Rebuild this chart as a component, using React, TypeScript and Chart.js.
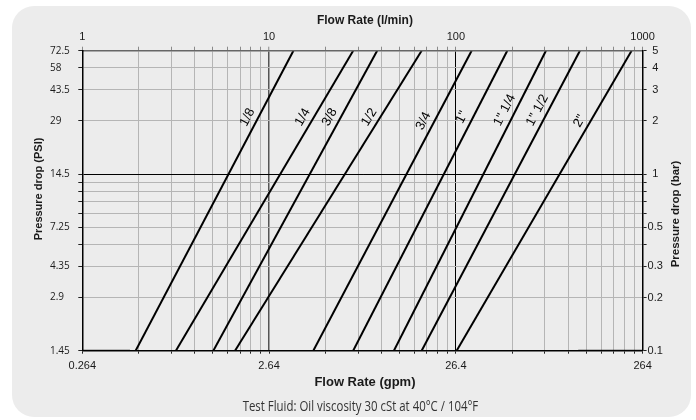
import React, { useEffect, useRef } from 'react';
import { Chart, registerables } from 'chart.js';

Chart.register(...registerables);

// ---- data ----
const pipeSizes = ['1/8', '1/4', '3/8', '1/2', '3/4', '1"', '1" 1/4', '1" 1/2', '2"'];
const lowDrop = 0.1; // bar
const highDrop = 5; // bar
const flowAtLowDrop = [1.93, 3.17, 5.03, 6.57, 17.25, 28.2, 46.6, 65.6, 101]; // l/min at 0.1 bar
const flowAtHighDrop = [13.5, 28.2, 37.9, 65.6, 121.5, 188.5, 303.7, 461.7, 873]; // l/min at 5 bar
const labelDrop = [2.1, 2.1, 2.1, 2.1, 2.0, 2.1, 2.3, 2.3, 2.0]; // bar where size label sits
const baselineLeft = [1, 1.8]; // l/min, along 0.1 bar
const baselineRight = [452, 1000]; // l/min, along 0.1 bar

const flowGrid = [1, 2, 3, 4, 5, 6, 7, 8, 9, 10, 20, 30, 40, 50, 60, 70, 80, 90, 100, 200, 300, 400, 500, 600, 700, 800, 900, 1000];
const flowLabelValues = [1, 10, 100, 1000];
const flowLabels = ['1', '10', '100', '1000'];
const gpmLabels = ['0.264', '2.64', '26.4', '264'];
const barGrid = [0.1, 0.2, 0.3, 0.4, 0.5, 0.6, 0.7, 0.8, 0.9, 1, 2, 3, 4, 5];
const barLabelValues = [0.1, 0.2, 0.3, 0.5, 1, 2, 3, 4, 5];
const barLabels = ['0.1', '0.2', '0.3', '0.5', '1', '2', '3', '4', '5'];
const psiLabels = ['1.45', '2.9', '4.35', '7.25', '14.5', '29', '43.5', '58', '72.5'];

const GPM_PER_LPM = 0.264;
const PSI_PER_BAR = 14.5;

const topTitle = 'Flow Rate (l/min)';
const bottomTitle = 'Flow Rate (gpm)';
const leftTitle = 'Pressure drop (PSI)';
const rightTitle = 'Pressure drop (bar)';
const caption = 'Test Fluid: Oil viscosity 30 cSt at 40°C / 104°F';

const SANS = '"Liberation Sans", Arial, Helvetica, sans-serif';
const TEXT = '#1a1a1a';
const GRID = '#b5b5b5';

const flowLabelAt = (i: number) => {
  const k = flowLabelValues.indexOf(flowGrid[i]);
  return k >= 0 ? flowLabels[k] : '';
};
const gpmLabelAt = (i: number) => {
  const k = flowLabelValues.indexOf(flowGrid[i]);
  return k >= 0 ? gpmLabels[k] : '';
};
const barLabelAt = (i: number) => {
  const k = barLabelValues.indexOf(barGrid[i]);
  return k >= 0 ? barLabels[k] : '';
};
const psiLabelAt = (i: number) => {
  const k = barLabelValues.indexOf(barGrid[i]);
  return k >= 0 ? psiLabels[k] : '';
};

const textPlugin = {
  id: 'chartTexts',
  afterDatasetsDraw(chart: any) {
    const { ctx } = chart;
    const xs = chart.scales.x;
    const ys = chart.scales.y2;
    ctx.save();
    ctx.fillStyle = '#000';
    ctx.font = `13px ${SANS}`;
    ctx.textAlign = 'center';
    ctx.textBaseline = 'middle';
    pipeSizes.forEach((s, i) => {
      const x0 = xs.getPixelForValue(flowAtLowDrop[i]);
      const y0 = ys.getPixelForValue(lowDrop);
      const x1 = xs.getPixelForValue(flowAtHighDrop[i]);
      const y1 = ys.getPixelForValue(highDrop);
      const yc = ys.getPixelForValue(labelDrop[i]);
      const t = (yc - y0) / (y1 - y0);
      const xc = x0 + t * (x1 - x0) - 11;
      const ang = Math.atan2(y1 - y0, x1 - x0);
      ctx.save();
      ctx.translate(xc, yc);
      ctx.rotate(ang);
      ctx.fillText(s, 0, 0);
      ctx.restore();
    });
    ctx.restore();
  },
  afterDraw(chart: any) {
    const { ctx, chartArea } = chart;
    const cx = (chartArea.left + chartArea.right) / 2;
    ctx.save();
    ctx.fillStyle = TEXT;
    ctx.textAlign = 'center';
    ctx.textBaseline = 'middle';
    ctx.font = `bold 12px ${SANS}`;
    ctx.fillText(topTitle, cx + 2.5, chartArea.top - 30);
    ctx.font = `bold 13px ${SANS}`;
    ctx.fillText(bottomTitle, cx + 2.5, chartArea.bottom + 32);

    ctx.font = `bold 11px ${SANS}`;
    ctx.save();
    ctx.translate(39, 189);
    ctx.rotate(-Math.PI / 2);
    ctx.fillText(leftTitle, 0, 0);
    ctx.restore();

    ctx.font = `bold 11.5px ${SANS}`;
    ctx.save();
    ctx.translate(676, 214);
    ctx.rotate(-Math.PI / 2);
    ctx.fillText(rightTitle, 0, 0);
    ctx.restore();

    ctx.fillStyle = '#333';
    ctx.font = `15px "Open Sans", ${SANS}`;
    const w = ctx.measureText(caption).width;
    ctx.save();
    ctx.translate(cx - 2, chartArea.bottom + 56);
    ctx.scale(235.6 / w, 1);
    ctx.fillText(caption, 0, 0);
    ctx.restore();
    ctx.restore();
  },
};

export default function App() {
  const ref = useRef<HTMLCanvasElement>(null);

  useEffect(() => {
    const canvas = ref.current;
    if (!canvas) return;

    const datasets: any[] = pipeSizes.map((s, i) => ({
      label: s,
      data: [
        { x: flowAtLowDrop[i], y: lowDrop },
        { x: flowAtHighDrop[i], y: highDrop },
      ],
      showLine: true,
      borderColor: '#000',
      borderWidth: 2,
      pointRadius: 0,
      xAxisID: 'x',
      yAxisID: 'y2',
    }));
    [baselineLeft, baselineRight].forEach((seg, k) => {
      datasets.push({
        label: 'base' + k,
        data: seg.map((q) => ({ x: q, y: lowDrop })),
        showLine: true,
        borderColor: '#222',
        borderWidth: 2,
        pointRadius: 0,
        xAxisID: 'x',
        yAxisID: 'y2',
      });
    });

    const tickFont = { family: SANS, size: 11 };

    const chart = new Chart(canvas, {
      type: 'scatter',
      data: { datasets },
      plugins: [textPlugin],
      options: {
        responsive: false,
        animation: false,
        events: [],
        layout: { padding: { left: 50, right: 23.4, top: 10, bottom: 39.3 } },
        plugins: { legend: { display: false }, tooltip: { enabled: false } },
        scales: {
          x: {
            type: 'logarithmic',
            position: 'top',
            min: 1,
            max: 1000,
            afterBuildTicks: (s: any) => {
              s.ticks = flowGrid.map((v) => ({ value: v }));
            },
            afterFit: (s: any) => {
              s.height = 40.7;
            },
            ticks: {
              autoSkip: false,
              maxRotation: 0,
              minRotation: 0,
              padding: 3,
              color: TEXT,
              font: tickFont,
              callback: (_v: any, i: number) => flowLabelAt(i),
            },
            grid: {
              color: (c: any) => (flowGrid[c.index] === 100 ? '#000' : flowGrid[c.index] === 10 ? '#555' : GRID),
              lineWidth: (c: any) => (flowGrid[c.index] === 10 ? 1.5 : 1),
              tickLength: 4,
              tickColor: '#8a8a8a',
              tickWidth: 1,
            },
            border: { display: true, color: '#666', width: 1.5, z: 1 },
          },
          x2: {
            type: 'logarithmic',
            position: 'bottom',
            min: 0.264,
            max: 264,
            afterBuildTicks: (s: any) => {
              s.ticks = flowGrid.map((v) => ({ value: v * GPM_PER_LPM }));
            },
            afterFit: (s: any) => {
              s.height = 30;
            },
            ticks: {
              autoSkip: false,
              maxRotation: 0,
              minRotation: 0,
              padding: 6,
              color: TEXT,
              font: tickFont,
              callback: (_v: any, i: number) => gpmLabelAt(i),
            },
            grid: { drawOnChartArea: false, tickLength: 3, tickColor: '#222', tickWidth: 1 },
            border: { display: true, color: '#000', width: 1.5, z: 1 },
          },
          y: {
            type: 'logarithmic',
            position: 'left',
            min: lowDrop * PSI_PER_BAR,
            max: highDrop * PSI_PER_BAR,
            afterBuildTicks: (s: any) => {
              s.ticks = barGrid.map((b) => ({ value: b * PSI_PER_BAR }));
            },
            afterFit: (s: any) => {
              s.width = 32.3;
            },
            ticks: {
              autoSkip: false,
              crossAlign: 'far',
              padding: 0,
              color: TEXT,
              font: { family: '"Open Sans", ' + SANS, size: 10 },
              callback: (_v: any, i: number) => psiLabelAt(i),
            },
            grid: {
              color: (c: any) => (barGrid[c.index] === 1 ? '#000' : GRID),
              tickLength: 4,
              tickColor: '#222',
              tickWidth: 1,
            },
            border: { display: true, color: '#000', width: 1.5, z: 1 },
          },
          y2: {
            type: 'logarithmic',
            position: 'right',
            min: lowDrop,
            max: highDrop,
            afterBuildTicks: (s: any) => {
              s.ticks = barGrid.map((b) => ({ value: b }));
            },
            afterFit: (s: any) => {
              s.width = 30;
            },
            ticks: {
              autoSkip: false,
              crossAlign: 'center',
              padding: 1,
              color: TEXT,
              font: tickFont,
              callback: (_v: any, i: number) => barLabelAt(i),
            },
            grid: { drawOnChartArea: false, tickLength: 4, tickColor: '#222', tickWidth: 1 },
            border: { display: true, color: '#000', width: 1.5, z: 1 },
          },
        },
      } as any,
    });

    return () => chart.destroy();
  }, []);

  return (
    <div style={{ position: 'absolute', left: 0, top: 0, width: 696, height: 420, overflow: 'hidden', background: '#fff' }}>
      <div
        style={{
          position: 'absolute',
          left: 12,
          top: 6,
          width: 679,
          height: 411,
          background: '#ececec',
          borderRadius: 22,
        }}
      />
      <canvas
        ref={ref}
        width={696}
        height={420}
        style={{ position: 'absolute', left: 0, top: 0, width: 696, height: 420 }}
      />
    </div>
  );
}
